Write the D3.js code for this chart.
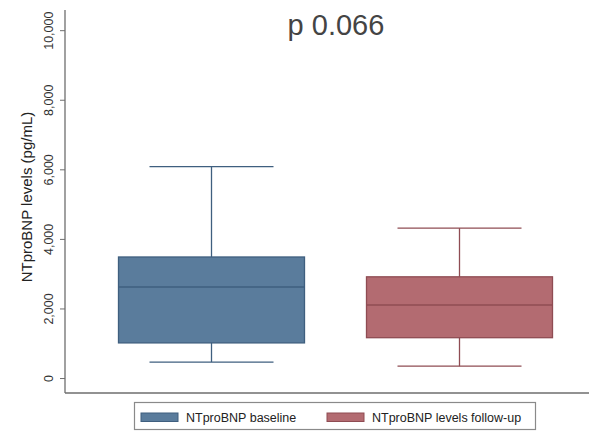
<!DOCTYPE html>
<html>
<head>
<meta charset="utf-8">
<script src="https://cdn.jsdelivr.net/npm/d3@7"></script>
<style>
  body { margin: 0; background: #fff; }
  svg { display: block; font-family: Arial, "Liberation Sans", Helvetica, sans-serif; }
</style>
</head>
<body>
<svg id="chart"></svg>
<script>
const size = {w: 589, h: 433};
const plot = {l: 65, t: 10, r: 589, b: 393};

// DATA
const categories = ['NTproBNP baseline', 'NTproBNP levels follow-up'];
const whiskerLow = [460, 340];
const q1 = [1010, 1160];
const median = [2620, 2100];
const q3 = [3480, 2910];
const whiskerHigh = [6080, 4310];
const yTicks = [0, 2000, 4000, 6000, 8000, 10000];

const fills = ['#5a7c9c', '#b36b71'];
const strokes = ['#3f5f7f', '#8f4c53'];

const svg = d3.select('svg#chart')
    .attr('width', size.w)
    .attr('height', size.h);

// scales
const y = d3.scaleLinear()
    .domain([-430, 10580])
    .range([plot.b, plot.t]);

const x = d3.scaleBand()
    .domain(categories)
    .range([87.5, 583.5])
    .paddingInner(0.25)
    .paddingOuter(0.125);

const axisColor = '#6e6e6e';

// y axis
const yAxis = svg.append('g')
    .attr('transform', `translate(${plot.l},0)`)
    .call(d3.axisLeft(y).tickValues(yTicks).tickSize(5).tickFormat(d3.format(',')));
yAxis.select('.domain').remove();
yAxis.selectAll('.tick line').attr('stroke', axisColor);
yAxis.selectAll('.tick text')
    .attr('x', null).attr('dy', null)
    .attr('transform', 'translate(-12,0) rotate(-90)')
    .attr('text-anchor', 'middle')
    .attr('fill', '#333')
    .style('font-size', '12.5px');

// axis lines
svg.append('line')
    .attr('x1', plot.l).attr('x2', plot.l)
    .attr('y1', plot.t).attr('y2', plot.b)
    .attr('stroke', axisColor).attr('stroke-width', 1.3);
svg.append('line')
    .attr('x1', plot.l).attr('x2', plot.r)
    .attr('y1', plot.b).attr('y2', plot.b)
    .attr('stroke', axisColor).attr('stroke-width', 1.6);

// y title
svg.append('text')
    .attr('transform', `translate(32,197) rotate(-90)`)
    .attr('text-anchor', 'middle')
    .attr('fill', '#222')
    .style('font-size', '15px')
    .text('NTproBNP levels (pg/mL)');

// title
svg.append('text')
    .attr('x', 336)
    .attr('y', 35)
    .attr('text-anchor', 'middle')
    .attr('fill', '#444')
    .style('font-size', '29px')
    .text('p 0.066');

// BOXES
const boxes = svg.append('g')
    .selectAll('g')
    .data(categories)
    .join('g');

const cx = d => x(d) + x.bandwidth() / 2;
const capW = x.bandwidth() / 3;

// whiskers
boxes.append('line')
    .attr('x1', cx).attr('x2', cx)
    .attr('y1', (d, i) => y(whiskerLow[i]))
    .attr('y2', (d, i) => y(whiskerHigh[i]))
    .attr('stroke', (d, i) => strokes[i]).attr('stroke-width', 1.3);
[whiskerLow, whiskerHigh].forEach(arr => {
    boxes.append('line')
        .attr('x1', d => cx(d) - capW).attr('x2', d => cx(d) + capW)
        .attr('y1', (d, i) => y(arr[i])).attr('y2', (d, i) => y(arr[i]))
        .attr('stroke', (d, i) => strokes[i]).attr('stroke-width', 1.3);
});

boxes.append('rect')
    .attr('x', d => x(d))
    .attr('width', x.bandwidth())
    .attr('y', (d, i) => y(q3[i]))
    .attr('height', (d, i) => y(q1[i]) - y(q3[i]))
    .attr('fill', (d, i) => fills[i])
    .attr('stroke', (d, i) => strokes[i])
    .attr('stroke-width', 1.3);

boxes.append('line')
    .attr('x1', d => x(d)).attr('x2', d => x(d) + x.bandwidth())
    .attr('y1', (d, i) => y(median[i])).attr('y2', (d, i) => y(median[i]))
    .attr('stroke', (d, i) => strokes[i]).attr('stroke-width', 1.5);

// LEGEND
const legend = svg.append('g');
legend.append('rect')
    .attr('x', 134.5).attr('y', 402.5)
    .attr('width', 401).attr('height', 27)
    .attr('fill', '#fff')
    .attr('stroke', '#8a8a8a').attr('stroke-width', 1.2);

const legendX = [141, 327];
const items = legend.selectAll('g.item')
    .data(categories)
    .join('g')
    .attr('transform', (d, i) => `translate(${legendX[i]},413)`);
items.append('rect')
    .attr('width', 37).attr('height', 8.5)
    .attr('fill', (d, i) => fills[i])
    .attr('stroke', (d, i) => strokes[i]).attr('stroke-width', 1);
items.append('text')
    .attr('x', 45).attr('y', 8.5)
    .attr('fill', '#222')
    .style('font-size', '12.5px')
    .text(d => d);
</script>
</body>
</html>
